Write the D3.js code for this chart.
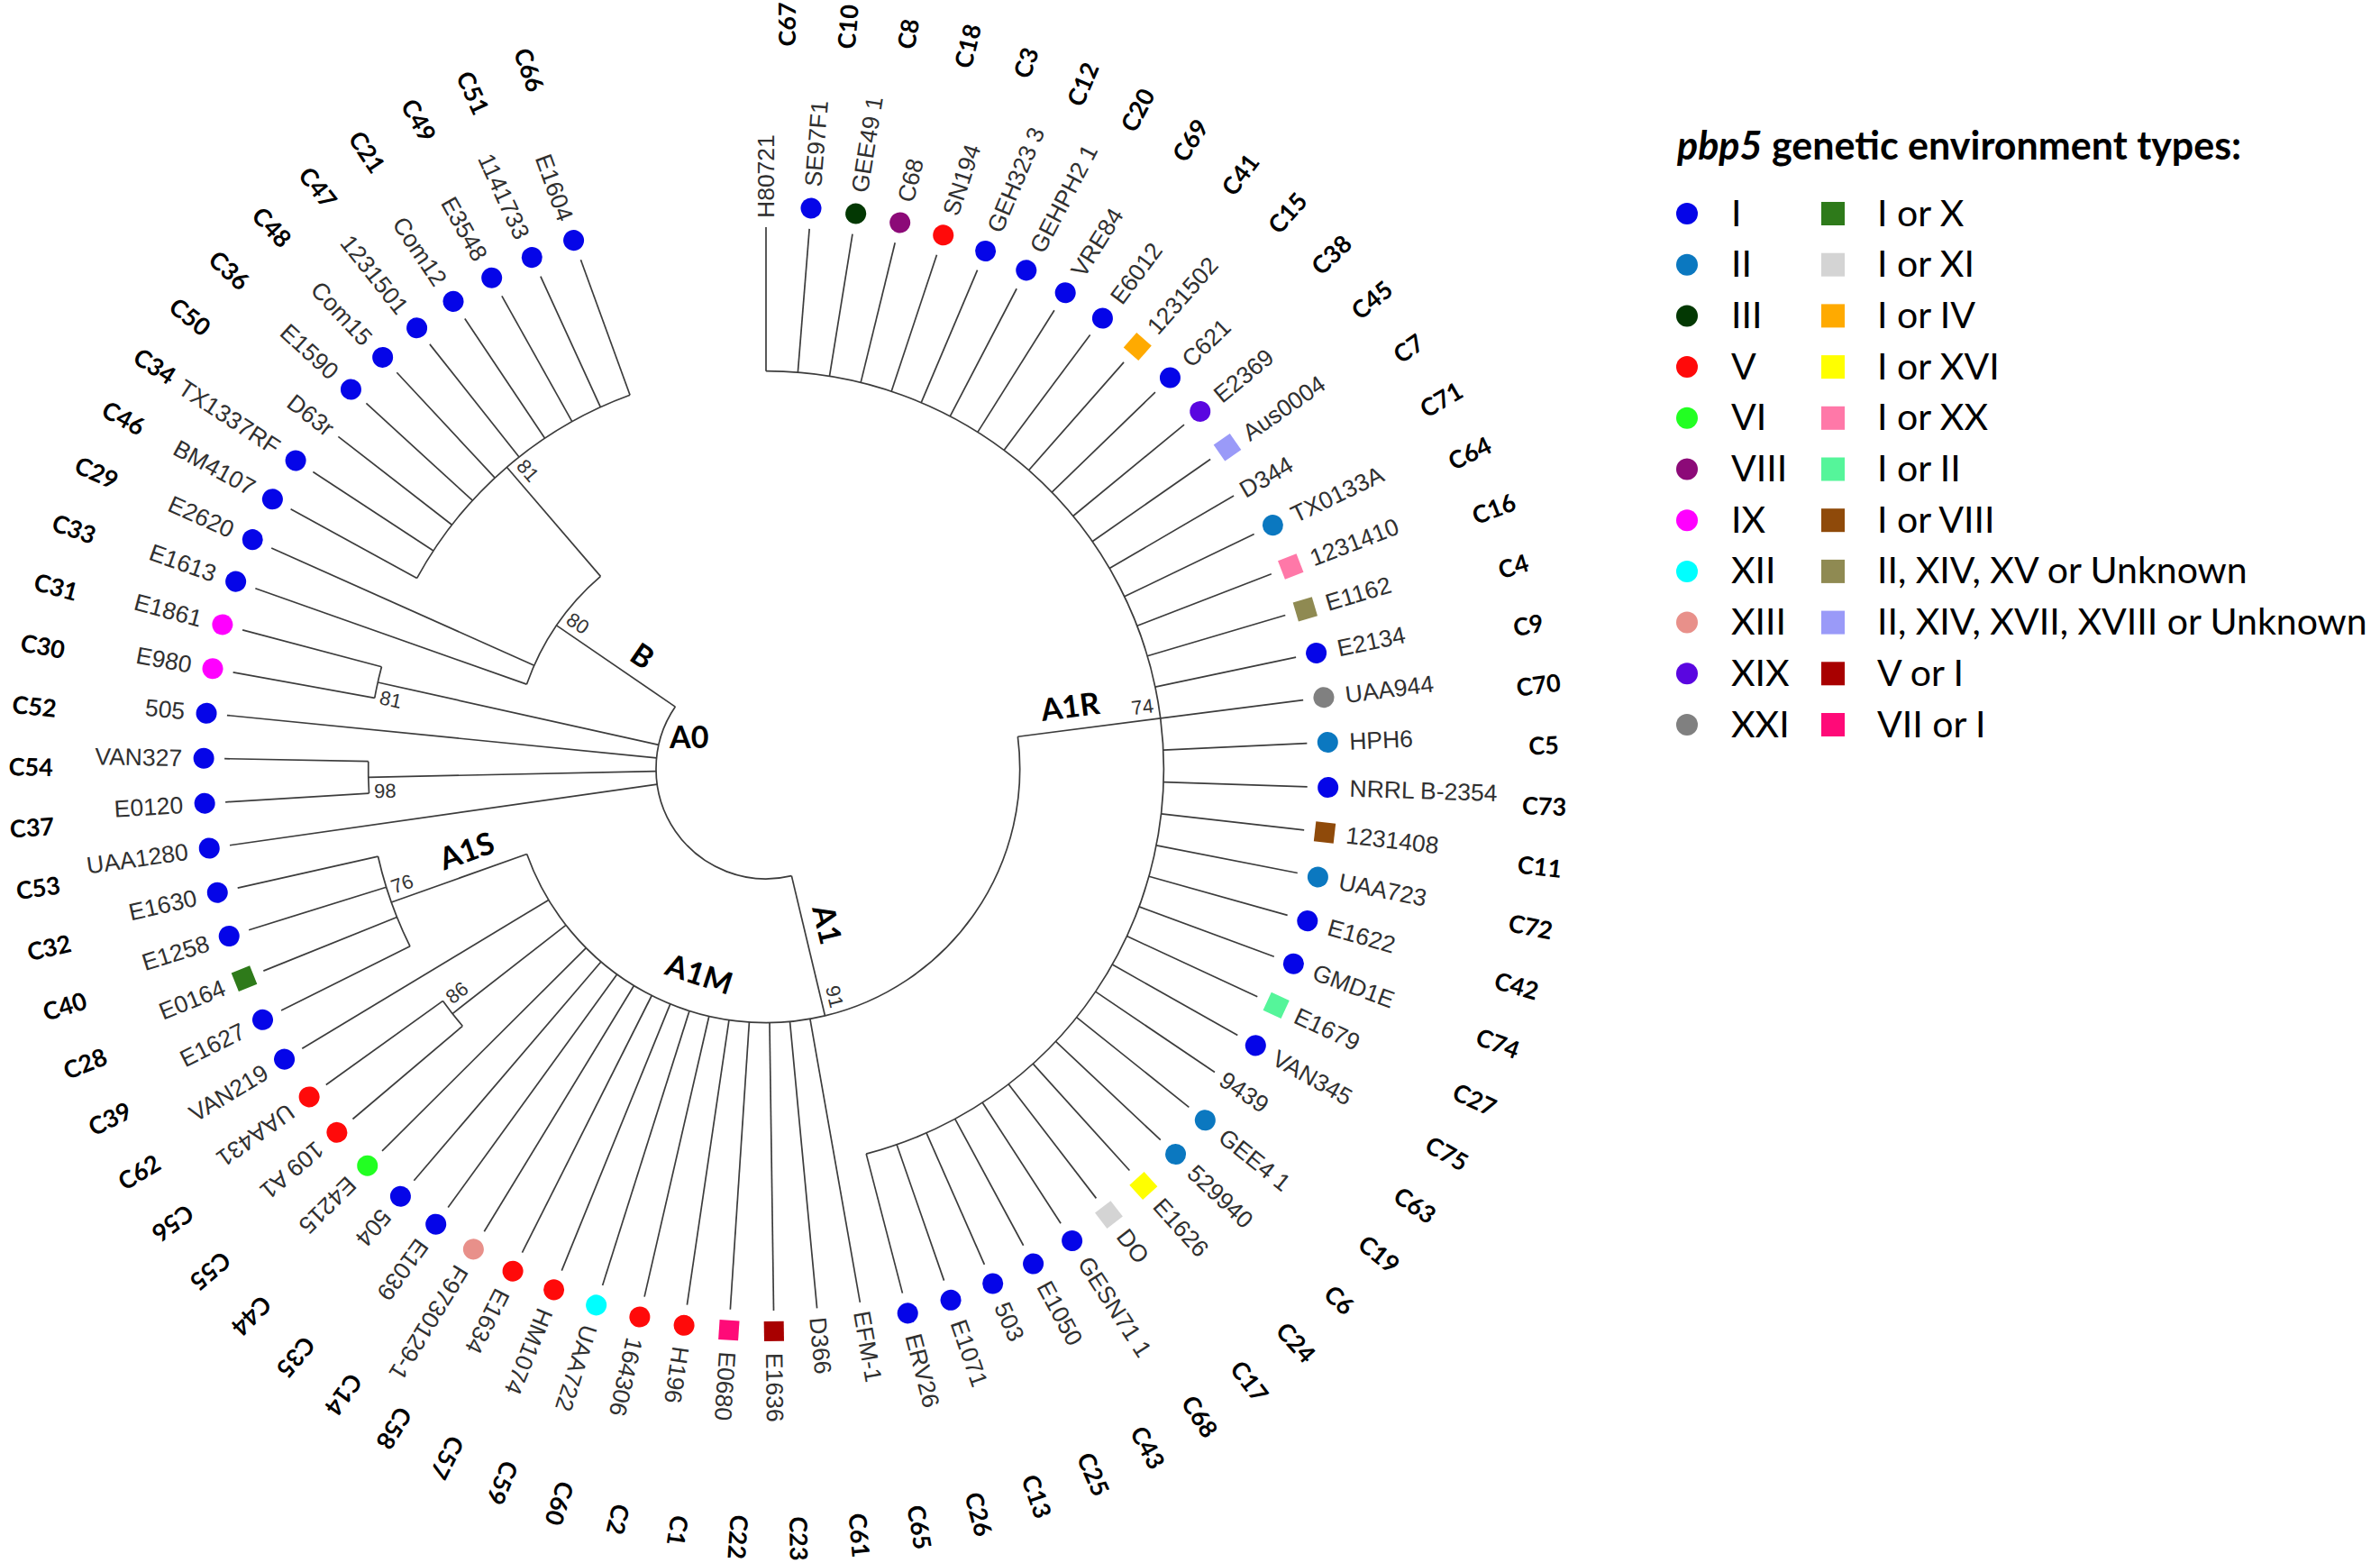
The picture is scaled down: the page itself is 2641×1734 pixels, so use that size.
<!DOCTYPE html>
<html>
<head>
<meta charset="utf-8">
<script src="https://cdn.jsdelivr.net/npm/d3@7"></script>
<style>
  html, body { margin: 0; padding: 0; background: #fff; }
  svg { display: block; }
</style>
</head>
<body>
<svg id="chart" width="2641" height="1734"></svg>
<script>
(function () {
    'use strict';

    // leaves, clockwise from the top
    const leaves = [
        "H80721", "SE97F1", "GEE49 1", "C68", "SN194", "GEH323 3", "GEHPH2 1", "VRE84", "E6012", "1231502",
        "C621", "E2369", "Aus0004", "D344", "TX0133A", "1231410", "E1162", "E2134", "UAA944", "HPH6",
        "NRRL B-2354", "1231408", "UAA723", "E1622", "GMD1E", "E1679", "VAN345", "9439", "GEE4 1", "529940",
        "E1626", "DO", "GESN71 1", "E1050", "503", "E1071", "ERV26", "EFM-1", "D366", "E1636",
        "E0680", "H196", "164306", "UAA722", "HM1074", "E1634", "F9730129-1", "E1039", "504", "E4215",
        "109 A1", "UAA431", "VAN219", "E1627", "E0164", "E1258", "E1630", "UAA1280", "E0120", "VAN327",
        "505", "E980", "E1861", "E1613", "E2620", "BM4107", "TX1337RF", "D63r", "E1590", "Com15",
        "1231501", "Com12", "E3548", "1141733", "E1604"
    ];

    const clusters = [
        "C67", "C10", "C8", "C18", "C3", "C12", "C20", "C69", "C41", "C15",
        "C38", "C45", "C7", "C71", "C64", "C16", "C4", "C9", "C70", "C5",
        "C73", "C11", "C72", "C42", "C74", "C27", "C75", "C63", "C19", "C6",
        "C24", "C17", "C68", "C43", "C25", "C13", "C26", "C65", "C61", "C23",
        "C22", "C1", "C2", "C60", "C59", "C57", "C58", "C14", "C35", "C44",
        "C55", "C56", "C62", "C39", "C28", "C40", "C32", "C53", "C37", "C54",
        "C52", "C30", "C31", "C33", "C29", "C46", "C34", "C50", "C36", "C48",
        "C47", "C21", "C49", "C51", "C66"
    ];

    // pbp5 genetic environment type of each leaf ("" = not shown)
    const envTypes = [
        "", "I", "III", "VIII", "V", "I", "I", "I", "I", "I or IV",
        "I", "XIX", "II, XIV, XVII, XVIII or Unknown", "", "II", "I or XX", "II, XIV, XV or Unknown", "I", "XXI", "II",
        "I", "I or VIII", "II", "I", "I", "I or II", "I", "", "II", "II",
        "I or XVI", "I or XI", "I", "I", "I", "I", "I", "", "", "V or I",
        "VII or I", "V", "V", "XII", "V", "V", "XIII", "I", "I", "VI",
        "V", "V", "I", "I", "I or X", "I", "I", "I", "I", "I",
        "I", "IX", "IX", "I", "I", "I", "I", "", "I", "I",
        "I", "I", "I", "I", "I"
    ];

    // internal nodes: [clade name, bootstrap, first leaf, last leaf]; the root (A0) holds all leaves
    const clades = [
        ["A1", 91, "H80721", "E1630"],
        ["A1R", 74, "H80721", "ERV26"],
        ["", 86, "109 A1", "UAA431"],
        ["A1S", 76, "E1627", "E1630"],
        ["", 98, "E0120", "VAN327"],
        ["", 81, "E980", "E1861"],
        ["B", 80, "E1613", "E1604"],
        ["", 81, "BM4107", "E1604"]
    ];

    const legendCircles = ["I", "II", "III", "V", "VI", "VIII", "IX", "XII", "XIII", "XIX", "XXI"];
    const legendSquares = ["I or X", "I or XI", "I or IV", "I or XVI", "I or XX", "I or II", "I or VIII",
        "II, XIV, XV or Unknown", "II, XIV, XVII, XVIII or Unknown", "V or I", "VII or I"];

    const color = d3.scaleOrdinal()
        .domain(legendCircles.concat(legendSquares))
        .range([
            "#0505e8", "#0b78c0", "#033803", "#ff0a0a", "#22ff22", "#8c0a78", "#ff00ff", "#00ffff", "#e8908a", "#5a06e0", "#808080",
            "#2e7a1a", "#d4d4d4", "#ffaa00", "#ffff00", "#ff78a8", "#55f59a", "#8f4a0a", "#8f8a52", "#9a9af8", "#a80000", "#ff0a78"
        ]);

    const width = 2641, height = 1734;
    const cx = 850, cy = 853;
    const leafR = 601, rootR = 122, markR = 624;
    const toDeg = a => a * 180 / Math.PI;

    const svg = d3.select('#chart');
    svg.append('rect').attr('width', width).attr('height', height).attr('fill', '#fff');
    const g = svg.append('g').attr('transform', `translate(${cx},${cy})`);

    // build the nested tree from the leaf ranges
    const pos = new Map(leaves.map((d, i) => [d, i]));
    const rootData = {name: "A0", support: null, i0: 0, i1: leaves.length - 1, children: []};
    const inner = clades.map(([name, support, a, b]) => ({name, support, i0: pos.get(a), i1: pos.get(b), children: []}));
    const all = [rootData].concat(inner);

    function holder(i0, i1, self) {
        let best = rootData;
        all.forEach(c => {
            if (c !== self && c.i0 <= i0 && c.i1 >= i1 && (c.i1 - c.i0) < (best.i1 - best.i0)) best = c;
        });
        return best;
    }
    inner.forEach(c => holder(c.i0, c.i1, c).children.push(c));
    leaves.forEach((name, i) => holder(i, i, null).children.push({
        name, i0: i, i1: i, cluster: clusters[i], env: envTypes[i]
    }));
    all.forEach(c => c.children.sort((a, b) => a.i0 - b.i0));

    const root = d3.hierarchy(rootData);
    const angle = d3.scaleLinear().domain([0, leaves.length - 1]).range([0, 340 * Math.PI / 180]);
    const radius = d3.scaleLinear().domain([0, root.height]).range([leafR, rootR]);

    root.eachAfter(d => {
        d.a = d.children
            ? (d.children[0].a + d.children[d.children.length - 1].a) / 2
            : angle(d.data.i0);
        d.r = radius(d.height);
    });

    const radial = d3.lineRadial().angle(d => d[0]).radius(d => d[1]);

    const lines = g.append('g')
        .attr('fill', 'none')
        .attr('stroke', '#3c3c3c')
        .attr('stroke-width', 1.7);

    lines.selectAll('path.branch')
        .data(root.descendants().slice(1))
        .join('path')
        .attr('class', 'branch')
        .attr('d', d => radial([[d.a, d.parent.r], [d.a, d.r]]));

    lines.selectAll('path.arc')
        .data(root.descendants().filter(d => d.children))
        .join('path')
        .attr('class', 'arc')
        .attr('d', d => {
            const a0 = d.children[0].a, a1 = d.children[d.children.length - 1].a;
            const p = d3.path();
            const [x, y] = d3.pointRadial(a0, d.r);
            p.moveTo(x, y);
            p.arc(0, 0, d.r, a0 - Math.PI / 2, a1 - Math.PI / 2);
            return p.toString();
        });

    const leafNodes = root.leaves();
    const flipLeaf = d => toDeg(d.a) > 236;

    // markers
    const marks = g.append('g')
        .selectAll('g')
        .data(leafNodes.filter(d => d.data.env))
        .join('g')
        .attr('transform', d => `rotate(${toDeg(d.a) - 90}) translate(${markR},0)`);

    marks.filter(d => legendCircles.includes(d.data.env))
        .append('circle')
        .attr('r', 11.5)
        .attr('fill', d => color(d.data.env));

    marks.filter(d => legendSquares.includes(d.data.env))
        .append('rect')
        .attr('x', -11).attr('y', -11)
        .attr('width', 22).attr('height', 22)
        .attr('fill', d => color(d.data.env));

    // leaf labels
    g.append('g')
        .style('font', '26.5px "Liberation Sans", Arial, sans-serif')
        .attr('fill', '#303030')
        .selectAll('text')
        .data(leafNodes)
        .join('text')
        .attr('dy', '0.35em')
        .attr('text-anchor', d => flipLeaf(d) ? 'end' : 'start')
        .attr('transform', d => {
            const r = d.data.env ? 648 : 611;
            return `rotate(${toDeg(d.a) - 90}) translate(${r},0)` + (flipLeaf(d) ? ' rotate(180)' : '');
        })
        .text(d => d.data.name);

    // cluster ids on the outer ring
    g.append('g')
        .style('font', '700 27px Lato, "Open Sans", sans-serif')
        .attr('fill', '#000')
        .selectAll('text')
        .data(leafNodes)
        .join('text')
        .attr('dy', '0.35em')
        .attr('text-anchor', 'middle')
        .attr('transform', d => {
            const [x, y] = d3.pointRadial(d.a, 840);
            return `translate(${x + 24},${y + 14}) rotate(${toDeg(d.a) - 90 + (flipLeaf(d) ? 180 : 0)})`;
        })
        .text(d => d.data.cluster);

    // bootstrap values at the nodes
    const supported = root.descendants().filter(d => d.parent && d.data.support != null);
    g.append('g')
        .style('font', '22px "Liberation Sans", Arial, sans-serif')
        .attr('fill', '#333')
        .selectAll('text')
        .data(supported)
        .join('text')
        .attr('x', d => toDeg(d.a) > 180 ? 6 : -6)
        .attr('dy', d => (d.parent === root && d.children.every(c => !c.children)) ? '1.05em' : '-0.35em')
        .attr('text-anchor', d => toDeg(d.a) > 180 ? 'start' : 'end')
        .attr('transform', d => `rotate(${toDeg(d.a) - 90}) translate(${d.r},0)` + (toDeg(d.a) > 180 ? ' rotate(180)' : ''))
        .text(d => d.data.support);

    // clade names along their branches
    const named = root.descendants().filter(d => d.parent && d.data.name && d.children);
    const cladeFont = '700 34px Lato, "Open Sans", sans-serif';
    g.append('g')
        .style('font', cladeFont)
        .attr('fill', '#000')
        .selectAll('text')
        .data(named)
        .join('text')
        .attr('text-anchor', 'middle')
        .attr('dy', '-0.4em')
        .attr('transform', d => {
            const r = (d.parent.r + d.r) / 2 - 18;
            return `rotate(${toDeg(d.a) - 90}) translate(${r},0)` + (toDeg(d.a) > 180 ? ' rotate(180)' : '');
        })
        .text(d => d.data.name);

    // root label and the A1M group on the A1 arc
    const [ax, ay] = d3.pointRadial(292 * Math.PI / 180, rootR - 30);
    g.append('text')
        .style('font', cladeFont)
        .attr('text-anchor', 'middle')
        .attr('dy', '0.35em')
        .attr('x', ax).attr('y', ay)
        .text(root.data.name);

    const a1 = root.descendants().find(d => d.data.name === "A1");
    const [mx, my] = d3.pointRadial(198 * Math.PI / 180, a1.r - 42);
    g.append('text')
        .style('font', cladeFont)
        .attr('text-anchor', 'middle')
        .attr('dy', '0.35em')
        .attr('transform', `translate(${mx},${my}) rotate(18)`)
        .text("A1M");

    // legend
    const legend = svg.append('g').attr('transform', 'translate(1861,0)');
    const title = legend.append('text')
        .attr('x', 0).attr('y', 177)
        .style('font', '700 43px Lato, "Open Sans", sans-serif');
    title.append('tspan').style('font-style', 'italic').text('pbp5');
    title.append('tspan').text(' genetic environment types:');

    const row = d3.scaleLinear().domain([0, legendCircles.length - 1]).range([237, 804]);
    const legendFont = '41px Lato, "Open Sans", sans-serif';

    const lc = legend.append('g').selectAll('g')
        .data(legendCircles)
        .join('g')
        .attr('transform', (d, i) => `translate(0,${row(i)})`);
    lc.append('circle').attr('cx', 11).attr('r', 12).attr('fill', d => color(d));
    lc.append('text').attr('x', 60).attr('dy', '0.33em').style('font', legendFont).text(d => d);

    const ls = legend.append('g').selectAll('g')
        .data(legendSquares)
        .join('g')
        .attr('transform', (d, i) => `translate(0,${row(i)})`);
    ls.append('rect').attr('x', 160).attr('y', -13).attr('width', 26).attr('height', 26).attr('fill', d => color(d));
    ls.append('text').attr('x', 222).attr('dy', '0.33em').style('font', legendFont).text(d => d);
}());
</script>
</body>
</html>
